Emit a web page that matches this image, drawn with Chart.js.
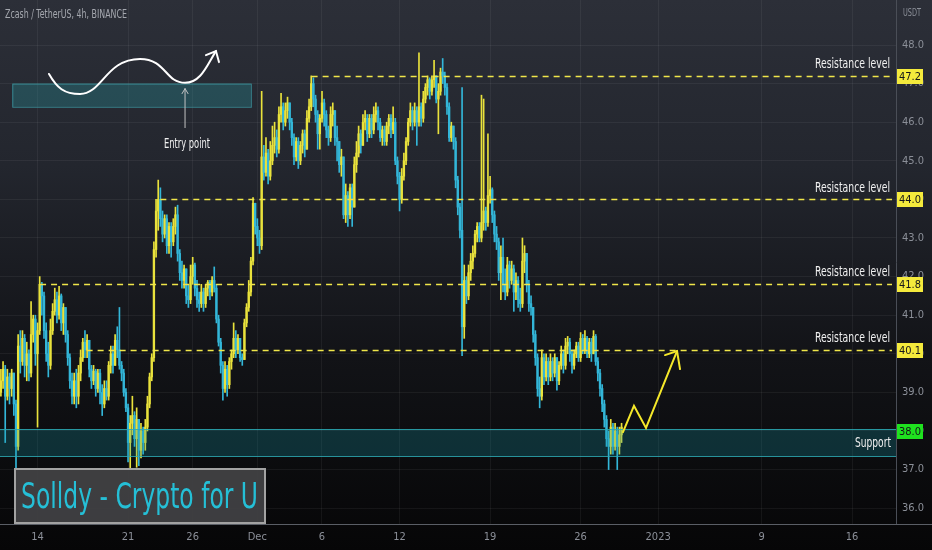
<!DOCTYPE html>
<html>
<head>
<meta charset="utf-8">
<title>Zcash / TetherUS 4h</title>
<script src="https://cdn.jsdelivr.net/npm/chart.js@4.4.0/dist/chart.umd.min.js"></script>
<style>
  html, body { margin: 0; padding: 0; }
  body {
    width: 932px; height: 550px; overflow: hidden;
    background: linear-gradient(to bottom, #2c2f38 0%, #23262e 30%, #121317 65%, #060607 100%);
  }
  #wrap { position: relative; width: 932px; height: 550px; }
</style>
</head>
<body>
<div id="wrap"><canvas id="chart" width="932" height="550"></canvas></div>
<script>
// 4h candles, time counted in days from Nov 14 00:00
const firstDay = -2.83;
const candleStep = 1 / 6;
const firstOpen = 39.0;

const closes = [
  39.3, 39.6, 38.9, 39.4, 39.1, 39.5, 38.7, 37.6, 40.2, 39.8,
  40.4, 39.7, 40.0, 39.5, 40.5, 40.9, 40.0, 40.6, 41.8, 41.5,
  40.6, 40.0, 39.7, 40.6, 41.1, 41.4, 41.0, 41.5, 40.8, 41.2,
  40.5, 39.9, 39.3, 38.9, 39.3, 38.9, 39.5, 39.9, 40.3, 40.1,
  40.35, 39.6, 39.3, 39.55, 39.1, 39.5, 39.0, 38.7, 39.1, 38.9,
  39.7, 40.0, 39.7, 40.35, 40.1, 39.7, 39.5, 39.0, 38.6, 37.7,
  38.2, 38.4, 37.8, 38.3, 37.5, 38.0, 37.7, 38.1, 38.7, 39.4,
  39.9, 42.7, 43.7, 44.0, 43.5, 43.1, 43.5, 42.8, 43.3, 42.9,
  43.3, 43.6, 42.6, 42.1, 41.9, 42.2, 41.5, 41.4, 42.0, 42.3,
  41.7, 41.4, 41.3, 41.6, 41.3, 41.7, 41.85, 41.6, 41.9, 41.7,
  40.9, 40.3, 39.7, 39.1, 39.6, 39.2, 39.8, 40.0, 40.4, 40.1,
  40.4, 39.9, 39.85, 40.8, 41.2, 41.6, 42.4, 43.9, 43.3, 43.0,
  42.8, 45.1, 44.7, 45.2, 44.6, 45.0, 45.4, 45.6, 45.3, 46.2,
  46.4, 46.0, 46.3, 46.5, 46.0, 45.6, 45.1, 45.5, 45.0, 45.4,
  45.7, 45.3, 46.1, 46.4, 47.0, 46.6, 46.2, 45.7, 46.1, 46.5,
  46.2, 45.8, 45.6, 46.2, 46.3, 45.6, 45.5, 44.9, 45.1, 43.6,
  44.1, 43.6, 44.3, 43.8, 44.9, 45.2, 45.7, 45.4, 46.0, 46.1,
  45.7, 46.1, 45.8, 46.2, 46.3, 46.0, 45.6, 45.8, 45.5, 45.9,
  46.1, 45.8, 46.0, 45.0, 44.6, 44.0, 44.6, 45.0, 45.5, 46.0,
  46.3, 46.0, 46.3, 46.0, 46.4, 46.1, 46.6, 46.9, 47.1, 46.8,
  47.1, 47.2, 46.6, 46.8, 47.3, 47.2, 46.9, 46.4, 45.6, 45.9,
  45.5, 44.5, 43.8, 43.2, 40.7, 41.9, 41.5, 42.1, 42.4, 42.6,
  43.1, 43.3, 43.0, 43.4, 43.7, 43.4, 44.1, 44.25, 43.6, 43.1,
  42.9, 42.1, 42.5, 41.8, 41.6, 42.3, 41.9, 42.2, 41.6, 41.9,
  41.4, 41.3, 42.4, 42.6, 41.8, 41.3, 41.2, 40.5, 39.9, 39.1,
  38.9, 39.9, 39.4, 39.8, 39.4, 39.8, 39.5, 39.9, 39.3, 39.7,
  40.0, 39.7, 40.2, 40.3, 40.0, 39.7, 40.0, 40.2, 39.9, 40.4,
  40.1, 40.4, 40.0, 40.3, 40.0, 40.45, 39.8, 39.5, 39.1, 38.7,
  38.3, 37.8, 37.6, 38.1, 37.6, 38.0, 37.6, 37.9, 38.1
];

const highs = [
  39.6, 39.8, 39.7, 39.6, 39.5, 39.6, 39.5, 38.8, 40.5, 40.6,
  40.6, 40.5, 40.3, 40.1, 41.35, 41.0, 41.0, 40.8, 42.0, 41.85,
  41.6, 40.8, 40.3, 40.9, 41.3, 41.7, 41.6, 41.75, 41.55, 41.3,
  41.2, 40.6, 40.0, 39.5, 39.5, 39.6, 39.7, 40.1, 40.4, 40.6,
  40.5, 40.2, 39.7, 39.7, 39.6, 39.6, 39.6, 39.2, 39.3, 39.3,
  39.8, 40.2, 40.2, 40.5, 40.7, 41.2, 39.8, 39.6, 39.1, 38.7,
  38.4, 38.9, 38.5, 38.6, 38.3, 38.2, 38.1, 38.3, 38.9, 39.5,
  40.0, 42.9, 44.0, 44.5, 44.3, 43.7, 43.6, 43.6, 43.4, 43.4,
  43.5, 43.8, 43.85, 42.7, 42.4, 42.3, 42.2, 41.8, 42.3, 42.5,
  42.35, 41.9, 41.6, 41.8, 41.7, 41.8, 41.9, 41.9, 42.0, 42.25,
  41.8, 41.0, 40.4, 39.8, 39.8, 39.7, 39.9, 40.1, 40.8, 40.6,
  40.5, 40.4, 40.0, 40.9, 41.3, 41.9, 42.5, 44.05, 43.9, 43.5,
  43.2, 46.8, 45.4, 45.6, 45.3, 45.5, 45.9, 46.0, 45.8, 46.4,
  46.75, 46.5, 46.5, 46.65, 46.5, 46.1, 45.7, 45.6, 45.6, 45.5,
  45.8, 45.8, 46.3, 46.6, 47.2, 47.15, 46.7, 46.3, 46.2, 46.8,
  46.6, 46.3, 45.9, 46.4, 46.5, 46.3, 45.9, 45.5, 45.3, 45.1,
  44.4, 44.2, 44.4, 44.4, 45.1, 45.5, 45.9, 45.8, 46.2, 46.3,
  46.2, 46.2, 46.2, 46.4, 46.5, 46.4, 46.1, 45.9, 45.9, 46.0,
  46.2, 46.2, 46.4, 46.1, 45.1, 44.7, 44.8, 45.2, 45.6, 46.1,
  46.5, 46.4, 46.5, 46.4, 47.8, 46.5, 46.8, 47.0, 47.2, 47.15,
  47.2, 47.6, 47.2, 47.0, 47.4, 47.65, 47.3, 47.0, 46.5, 46.0,
  45.9, 45.6, 44.6, 43.9, 46.9, 42.3, 42.0, 42.3, 42.6, 42.8,
  43.2, 43.4, 43.4, 46.7, 46.6, 43.8, 45.7, 44.6, 44.3, 43.7,
  43.3, 43.0, 42.8, 43.0, 42.2, 42.5, 42.4, 42.4, 42.3, 42.1,
  42.0, 41.7, 43.0, 42.8, 42.6, 41.9, 41.5, 41.2, 40.6, 40.0,
  39.4, 40.1, 40.0, 40.0, 39.9, 40.0, 39.9, 40.0, 39.9, 39.8,
  40.2, 40.1, 40.4, 40.45, 40.4, 40.1, 40.1, 40.3, 40.3, 40.55,
  40.5, 40.6, 40.45, 40.4, 40.4, 40.6, 40.5, 39.9, 39.6, 39.2,
  38.8, 38.4, 38.0, 38.3, 38.2, 38.2, 38.1, 38.1, 38.2
];

const lows = [
  38.9, 39.1, 37.7, 38.8, 38.7, 38.9, 38.4, 37.0, 37.5, 39.5,
  39.7, 39.4, 39.3, 39.3, 39.4, 40.3, 39.7, 38.1, 40.5, 41.0,
  40.4, 39.8, 39.4, 39.6, 40.5, 41.0, 40.8, 40.9, 40.6, 40.5,
  40.3, 39.7, 39.1, 38.7, 38.7, 38.6, 38.7, 39.3, 39.8, 39.9,
  39.9, 39.4, 39.1, 39.2, 38.9, 39.0, 38.7, 38.4, 38.6, 38.8,
  38.8, 39.5, 39.5, 39.7, 39.9, 39.6, 39.3, 38.9, 38.5, 37.2,
  37.0, 37.9, 37.6, 37.06, 37.1, 37.3, 37.4, 37.5, 38.0, 38.6,
  39.3, 39.8, 42.5, 43.2, 43.3, 42.9, 43.0, 42.6, 42.6, 42.5,
  42.8, 43.1, 42.4, 41.9, 41.7, 41.7, 41.3, 41.2, 41.3, 41.8,
  41.5, 41.2, 41.1, 41.2, 41.1, 41.2, 41.5, 41.4, 41.5, 41.6,
  40.8, 40.2, 39.5, 38.8, 39.0, 38.9, 39.1, 39.6, 39.9, 39.9,
  40.0, 39.8, 39.7, 39.9, 40.7, 41.1, 41.5, 42.3, 43.1, 42.8,
  42.6, 42.7, 44.5, 44.6, 44.4, 44.5, 44.9, 45.2, 45.1, 45.2,
  46.0, 45.8, 45.9, 46.1, 45.8, 45.4, 44.9, 45.0, 44.8, 44.9,
  45.2, 45.1, 45.3, 46.0, 46.3, 46.4, 46.0, 45.3, 45.3, 46.0,
  45.9, 45.6, 45.4, 45.5, 45.9, 45.4, 45.0, 44.7, 44.6, 43.5,
  43.4, 43.3, 43.5, 43.3, 43.8, 44.7, 45.1, 45.2, 45.4, 45.8,
  45.5, 45.6, 45.6, 45.7, 46.0, 45.8, 45.5, 45.4, 45.4, 45.4,
  45.7, 45.6, 45.7, 44.9, 44.4, 43.7, 43.9, 44.5, 44.9, 45.4,
  45.9, 45.8, 45.9, 45.4, 45.9, 45.9, 46.0, 46.5, 46.7, 46.6,
  46.7, 46.9, 46.5, 45.7, 46.7, 47.0, 46.7, 46.2, 45.5, 45.5,
  45.3, 44.3, 43.6, 43.0, 39.95, 40.4, 41.3, 41.4, 41.9, 42.2,
  42.5, 42.9, 42.9, 42.9, 43.2, 43.2, 43.3, 43.9, 43.4, 42.9,
  42.7, 41.9, 41.4, 41.6, 41.4, 41.5, 41.7, 41.8, 41.1, 41.4,
  41.2, 41.1, 41.2, 42.1, 41.6, 41.1, 41.0, 40.3, 39.7, 38.9,
  38.6, 38.8, 39.2, 39.3, 39.2, 39.3, 39.3, 39.4, 39.06, 39.2,
  39.6, 39.5, 39.6, 40.0, 39.8, 39.5, 39.6, 39.9, 39.8, 39.8,
  40.0, 40.0, 39.9, 39.9, 39.8, 40.0, 39.7, 39.3, 38.9, 38.5,
  38.1, 37.6, 37.0, 37.4, 37.4, 37.5, 37.0, 37.4, 37.7
];

// axis ticks
const dateTicks = [0, 7, 12, 17, 22, 28, 35, 42, 48, 56, 63];
const dateLabels = ['14', '21', '26', 'Dec', '6', '12', '19', '26', '2023', '9', '16'];
const priceTicks = [36, 37, 38, 39, 40, 41, 42, 43, 44, 45, 46, 47, 48];

// drawings: resistance levels with the day they start at, support zone
const resistLevels = [47.2, 44.0, 41.8, 40.1];
const resistStart = [21.2, 9.5, 0.2, 3.8];
const supportTop = 38.05;
const supportBottom = 37.35;
const supportTag = 38.0;
// projected path (days, price)
const pathDays = [45.28, 46.13, 47.06, 49.46];
const pathPrices = [37.97, 38.65, 38.08, 40.07];
// entry point sketch (days, price)
const sketchDays = [0.89, 3.29, 7.93, 11.41, 13.57];
const sketchPrices = [47.25, 46.73, 47.64, 47.02, 47.79];
const entryBox = { d0: -1.95, d1: 16.5, top: 47.0, bottom: 46.4 };

const UP = '#e9e23c';
const DOWN = '#33b6d8';
const LEVEL = '#f0e64a';
const FONT = "'Liberation Sans Narrow', 'DejaVu Sans Condensed', 'Noto Sans', sans-serif";

const wicks = [];
const bodies = [];
const colors = [];
let prev = firstOpen;
for (let i = 0; i < closes.length; i++) {
  const d = firstDay + i * candleStep;
  const o = prev;
  const c = closes[i];
  const h = Math.max(highs[i], o, c);
  const l = Math.min(lows[i], o, c);
  wicks.push({ x: d, y: [l, h] });
  bodies.push({ x: d, y: [o, c] });
  colors.push(c >= o ? UP : DOWN);
  prev = c;
}

function arrowHead(ctx, x, y, a, b) {
  ctx.beginPath();
  ctx.moveTo(x + a[0], y + a[1]);
  ctx.lineTo(x, y);
  ctx.lineTo(x + b[0], y + b[1]);
  ctx.stroke();
}

function noPadding(scale) {
  scale.paddingTop = 0;
  scale.paddingBottom = 0;
  scale.paddingLeft = 0;
  scale.paddingRight = 0;
}

const drawings = {
  id: 'drawings',
  afterDatasetsDraw(chart) {
    const ctx = chart.ctx;
    const xs = chart.scales.x;
    const ys = chart.scales.y;
    const area = chart.chartArea;
    ctx.save();

    // support zone
    const sTop = ys.getPixelForValue(supportTop);
    const sBot = ys.getPixelForValue(supportBottom);
    ctx.fillStyle = 'rgba(24, 150, 165, 0.26)';
    ctx.fillRect(area.left, sTop, area.right - area.left, sBot - sTop);
    ctx.strokeStyle = 'rgba(45, 170, 180, 0.85)';
    ctx.lineWidth = 1;
    ctx.beginPath();
    ctx.moveTo(area.left, Math.round(sTop) + 0.5);
    ctx.lineTo(area.right, Math.round(sTop) + 0.5);
    ctx.moveTo(area.left, Math.round(sBot) + 0.5);
    ctx.lineTo(area.right, Math.round(sBot) + 0.5);
    ctx.stroke();

    // resistance levels
    ctx.strokeStyle = LEVEL;
    ctx.lineWidth = 1.6;
    ctx.setLineDash([6, 5]);
    resistLevels.forEach((v, i) => {
      const y = Math.round(ys.getPixelForValue(v)) + 0.5;
      ctx.beginPath();
      ctx.moveTo(xs.getPixelForValue(resistStart[i]), y);
      ctx.lineTo(area.right - 4, y);
      ctx.stroke();
    });
    ctx.setLineDash([]);

    // labels
    ctx.fillStyle = '#f0f0f0';
    ctx.font = '14px ' + FONT;
    ctx.textAlign = 'right';
    ctx.textBaseline = 'middle';
    resistLevels.forEach((v) => {
      const y = ys.getPixelForValue(v) - 11.5;
      ctx.fillText('Resistance level', area.right - 6, y, 75);
    });
    ctx.fillText('Support', area.right - 5, (sTop + sBot) / 2 + 1, 36);

    // entry box + sketch
    const bx0 = xs.getPixelForValue(entryBox.d0);
    const bx1 = xs.getPixelForValue(entryBox.d1);
    const by0 = ys.getPixelForValue(entryBox.top);
    const by1 = ys.getPixelForValue(entryBox.bottom);
    ctx.fillStyle = 'rgba(40, 140, 150, 0.35)';
    ctx.fillRect(bx0, by0, bx1 - bx0, by1 - by0);
    ctx.strokeStyle = 'rgba(60, 150, 160, 0.8)';
    ctx.lineWidth = 1;
    ctx.strokeRect(bx0 + 0.5, by0 + 0.5, bx1 - bx0, by1 - by0);

    const p = sketchDays.map((d, i) => [xs.getPixelForValue(d), ys.getPixelForValue(sketchPrices[i])]);
    ctx.strokeStyle = '#ffffff';
    ctx.lineWidth = 2;
    ctx.lineCap = 'round';
    ctx.beginPath();
    ctx.moveTo(p[0][0], p[0][1]);
    ctx.bezierCurveTo(p[0][0] + 8, p[0][1] + 14, p[1][0] - 16, p[1][1], p[1][0], p[1][1]);
    ctx.bezierCurveTo(p[1][0] + 22, p[1][1], p[2][0] - 34, p[2][1], p[2][0], p[2][1]);
    ctx.bezierCurveTo(p[2][0] + 26, p[2][1], p[3][0] - 20, p[3][1], p[3][0], p[3][1]);
    ctx.bezierCurveTo(p[3][0] + 16, p[3][1], p[4][0] - 6, p[4][1] + 12, p[4][0] + 3, p[4][1] - 2);
    ctx.stroke();
    arrowHead(ctx, p[4][0] + 3, p[4][1] - 2, [-10, 4], [3, 11]);

    // entry point pointer
    const ex = xs.getPixelForValue(sketchDays[3]);
    ctx.strokeStyle = '#c4c4c4';
    ctx.lineWidth = 1;
    ctx.beginPath();
    ctx.moveTo(ex, by0 + 5);
    ctx.lineTo(ex, by0 + 44);
    ctx.stroke();
    arrowHead(ctx, ex, by0 + 5, [-3, 5], [3, 5]);
    ctx.fillStyle = '#f0f0f0';
    ctx.font = '14px ' + FONT;
    ctx.textAlign = 'center';
    ctx.fillText('Entry point', ex + 2, by0 + 61, 46);

    // projected path
    ctx.strokeStyle = '#f5e82a';
    ctx.lineWidth = 2;
    ctx.lineJoin = 'miter';
    ctx.beginPath();
    pathDays.forEach((d, i) => {
      const x = xs.getPixelForValue(d);
      const y = ys.getPixelForValue(pathPrices[i]);
      if (i === 0) ctx.moveTo(x, y); else ctx.lineTo(x, y);
    });
    ctx.stroke();
    const tx = xs.getPixelForValue(pathDays[3]);
    const ty = ys.getPixelForValue(pathPrices[3]);
    arrowHead(ctx, tx, ty, [-12, 4], [3, 18]);
    ctx.restore();
  },
  afterDraw(chart) {
    const ctx = chart.ctx;
    const ys = chart.scales.y;
    const area = chart.chartArea;
    ctx.save();

    // x axis line across the whole width
    ctx.strokeStyle = '#5a5e66';
    ctx.lineWidth = 1;
    ctx.beginPath();
    ctx.moveTo(0, Math.round(area.bottom) + 0.5);
    ctx.lineTo(chart.width, Math.round(area.bottom) + 0.5);
    ctx.stroke();

    // price tags
    ctx.font = '11px ' + FONT;
    ctx.textAlign = 'center';
    ctx.textBaseline = 'middle';
    const tag = (v, fill) => {
      const y = Math.round(ys.getPixelForValue(v));
      ctx.fillStyle = fill;
      ctx.fillRect(area.right + 1, y - 7, 26, 15);
      ctx.fillStyle = '#15161a';
      ctx.fillText(v.toFixed(1), area.right + 14, y + 1, 22);
    };
    resistLevels.forEach((v) => tag(v, '#f4ea3c'));
    tag(supportTag, '#1fe21f');

    // title and unit
    ctx.textAlign = 'left';
    ctx.fillStyle = '#a4a7ae';
    ctx.font = '12px ' + FONT;
    ctx.fillText('Zcash / TetherUS, 4h, BINANCE', 5, 15, 122);
    ctx.fillStyle = '#8b8f98';
    ctx.font = '10px ' + FONT;
    ctx.fillText('USDT', area.right + 7, 13, 18);

    // watermark box
    ctx.fillStyle = 'rgba(68, 68, 70, 0.9)';
    ctx.fillRect(15, 469, 250, 54);
    ctx.strokeStyle = '#a2a2a2';
    ctx.lineWidth = 2;
    ctx.strokeRect(15, 469, 250, 54);
    ctx.fillStyle = '#25bfd6';
    ctx.font = '36px ' + FONT;
    ctx.textBaseline = 'alphabetic';
    ctx.fillText('Solldy - Crypto for U', 21, 508, 237);
    ctx.restore();
  }
};

new Chart(document.getElementById('chart'), {
  type: 'bar',
  data: {
    datasets: [
      {
        label: 'wick',
        data: wicks,
        backgroundColor: colors,
        barThickness: 1,
        grouped: false,
        order: 2
      },
      {
        label: 'body',
        data: bodies,
        backgroundColor: colors,
        barThickness: 1.7,
        minBarLength: 1,
        grouped: false,
        order: 1
      }
    ]
  },
  options: {
    responsive: false,
    animation: false,
    events: [],
    layout: { padding: 0 },
    plugins: {
      legend: { display: false },
      tooltip: { enabled: false }
    },
    scales: {
      x: {
        type: 'linear',
        offset: false,
        min: -2.9,
        max: 66.395,
        afterBuildTicks: (scale) => { scale.ticks = dateTicks.map((v) => ({ value: v })); },
        afterFit: (scale) => { scale.height = 26; noPadding(scale); },
        grid: { color: 'rgba(255,255,255,0.055)', drawTicks: false, offset: false },
        border: { display: false },
        ticks: {
          autoSkip: false,
          maxRotation: 0,
          padding: 7,
          color: '#8b8f98',
          font: { size: 11, family: FONT },
          callback: (v) => {
            const k = dateTicks.indexOf(v);
            return k >= 0 ? dateLabels[k] : '';
          }
        }
      },
      y: {
        position: 'right',
        min: 35.59,
        max: 49.166,
        afterBuildTicks: (scale) => { scale.ticks = priceTicks.map((v) => ({ value: v })); },
        afterFit: (scale) => { scale.width = 36; noPadding(scale); },
        grid: { color: 'rgba(255,255,255,0.055)', drawTicks: false },
        border: { display: true, color: '#4a4e57' },
        ticks: {
          padding: 6,
          color: '#8b8f98',
          font: { size: 11, family: FONT },
          callback: (v) => Number(v).toFixed(1)
        }
      }
    }
  },
  plugins: [drawings]
});
</script>
</body>
</html>
